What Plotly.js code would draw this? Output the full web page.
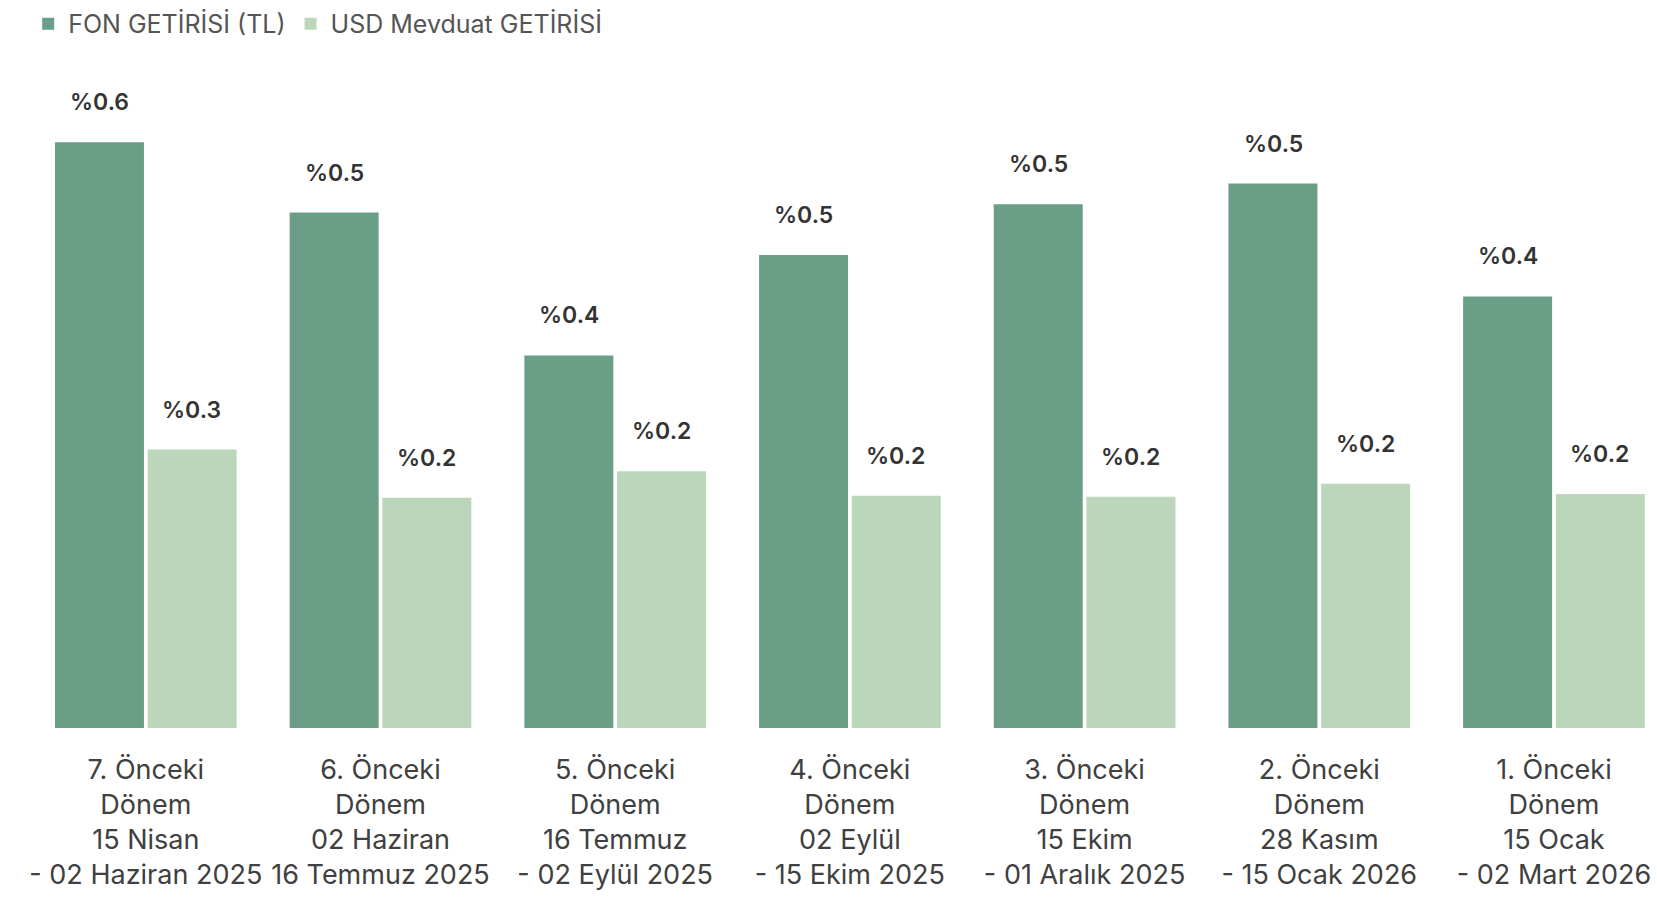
<!DOCTYPE html>
<html>
<head>
<meta charset="utf-8">
<script src="https://cdn.plot.ly/plotly-3.0.1.min.js"></script>
<style>html,body{margin:0;padding:0;background:#fff;}#chart{width:1657px;height:900px;}</style>
</head>
<body>
<div id="chart"></div>
<script>
const categories = [
  "7. Önceki<br>Dönem<br>15 Nisan<br>- 02 Haziran 2025",
  "6. Önceki<br>Dönem<br>02 Haziran<br>16 Temmuz 2025",
  "5. Önceki<br>Dönem<br>16 Temmuz<br>- 02 Eylül 2025",
  "4. Önceki<br>Dönem<br>02 Eylül<br>- 15 Ekim 2025",
  "3. Önceki<br>Dönem<br>15 Ekim<br>- 01 Aralık 2025",
  "2. Önceki<br>Dönem<br>28 Kasım<br>- 15 Ocak 2026",
  "1. Önceki<br>Dönem<br>15 Ocak<br>- 02 Mart 2026"
];
const fonValues = [0.566, 0.498, 0.360, 0.457, 0.506, 0.526, 0.417];
const usdValues = [0.269, 0.2225, 0.248, 0.2245, 0.2235, 0.236, 0.226];
const seriesNames = ["FON GETİRİSİ (TL)", "USD Mevduat GETİRİSİ"];

const FONT = "Inter, 'Open Sans', sans-serif";
const fmt = v => "%" + v.toFixed(1);

const traces = [
  {type: "bar", name: seriesNames[0], x: categories, y: fonValues,
   marker: {color: "#6A9E87"}, hoverinfo: "none"},
  {type: "bar", name: seriesNames[1], x: categories, y: usdValues,
   marker: {color: "#BCD6BC"}, hoverinfo: "none"}
];

const annotations = [];
const seriesVals = [fonValues, usdValues];
const shifts = [-46, 46];
seriesVals.forEach((vals, s) => {
  vals.forEach((v, i) => {
    annotations.push({
      x: categories[i], y: v, xref: "x", yref: "y",
      text: fmt(v), showarrow: false, xshift: shifts[s], yshift: 24,
      yanchor: "bottom", xanchor: "center",
      font: {family: FONT, size: 23, color: "#333333", weight: 600}
    });
  });
});

const layout = {
  width: 1657, height: 900,
  margin: {l: 28, r: 0, t: 60, b: 172},
  paper_bgcolor: "#ffffff", plot_bgcolor: "#ffffff",
  barmode: "group", bargap: 0.21, bargroupgap: 0.04,
  font: {family: FONT, color: "#404040"},
  showlegend: true,
  legend: {orientation: "h", xref: "container", yref: "container", x: 0.017, y: 0.999, xanchor: "left", yanchor: "top",
           font: {family: FONT, size: 25, color: "#555555"}, bgcolor: "rgba(0,0,0,0)"},
  xaxis: {type: "category", range: [-0.502, 6.439], showgrid: false, zeroline: false, showline: false,
          ticks: "", ticklabelstandoff: 23, tickangle: 0,
          tickfont: {family: FONT, size: 27, color: "#404040"}},
  yaxis: {range: [0, 0.6454], showgrid: false, zeroline: false, showline: false, showticklabels: false, ticks: ""},
  annotations: annotations
};

Plotly.newPlot("chart", traces, layout, {displayModeBar: false, staticPlot: true});
</script>
</body>
</html>
